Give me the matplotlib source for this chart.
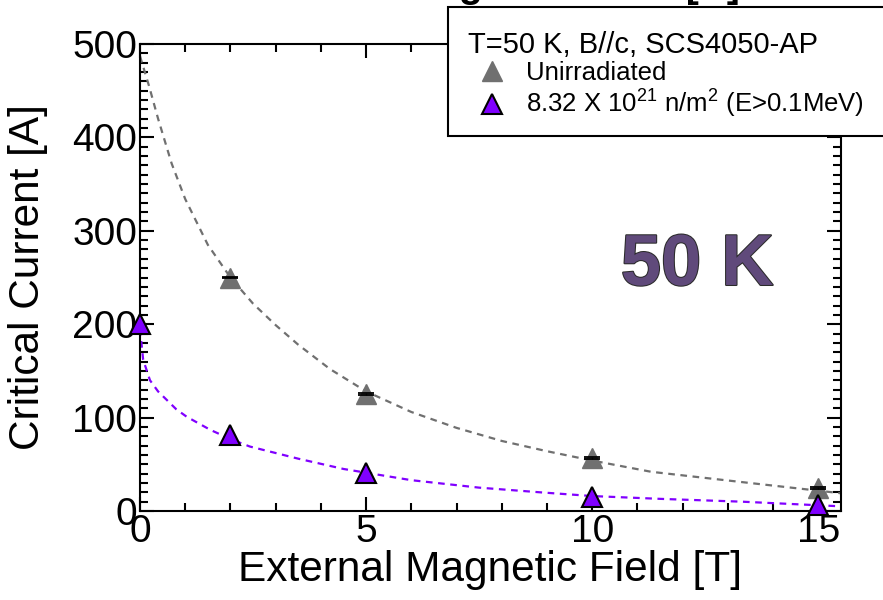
import numpy as np
import matplotlib.pyplot as plt
import matplotlib.patheffects as pe
from matplotlib.patches import Rectangle

plt.rcParams['font.family'] = ['Liberation Sans', 'DejaVu Sans']
plt.rcParams['mathtext.fontset'] = 'custom'
plt.rcParams['mathtext.rm'] = 'Liberation Sans'
plt.rcParams['mathtext.it'] = 'Liberation Sans:italic'

# measured points
field_unirr = [2, 5, 10, 15]
ic_unirr = [250, 125, 57, 25]
err_unirr = [1, 1, 1, 1]

field_irr = [0, 2, 5, 10, 15]
ic_irr = [200, 81, 41, 15, 6]

# fit curves
fit_unirr_x = [0, 0.2, 0.4, 0.7, 1.0, 1.5, 2.0, 2.5, 3.0, 3.5, 4.2, 5.0, 6.0, 7.0, 8.0, 9.0, 10.0, 11.3, 13.3, 15.5]
fit_unirr_y = [487, 455, 420, 372, 334, 285, 250, 222, 199, 178, 152, 128, 106, 89, 75, 64, 54, 42, 31, 19]

fit_irr_x = [0, 0.07, 0.22, 0.4, 0.59, 0.8, 1.03, 1.55, 2.0, 2.43, 3.5, 4.5, 6.0, 7.5, 8.85, 10.0, 11.5, 13.3, 15.5]
fit_irr_y = [195, 162, 140, 128, 119, 109, 101, 87, 77, 69, 56, 45, 33, 25, 20, 16, 13, 10, 5]

gray = '#707070'
purple = '#8000ff'

fig = plt.figure(figsize=(8.83, 6), dpi=100)
ax = fig.add_axes([140/883, 89/600, 701/883, 467/600])

ax.plot(fit_unirr_x, fit_unirr_y, color=gray, lw=1.6, ls=(0, (3, 2.5)))
ax.plot(fit_irr_x, fit_irr_y, color=purple, lw=1.6, ls=(0, (3, 2.5)))

h1, = ax.plot(field_unirr, ic_unirr, '^', ms=15, color=gray, mec=gray,
              clip_on=False, zorder=4, label='Unirradiated')
ax.errorbar(field_unirr, ic_unirr, yerr=err_unirr, fmt='none', ecolor='black',
            elinewidth=1, capsize=6, capthick=1.3, zorder=5, clip_on=False)
h2, = ax.plot(field_irr, ic_irr, '^', ms=15, color=purple, mec='black', mew=1.5,
              clip_on=False, zorder=4,
              label=r'8.32 X 10$^{21}$ n/m$^2$ (E>0.1MeV)')

ax.set_xlim(0, 15.5)
ax.set_ylim(0, 500)
ax.set_xticks([0, 5, 10, 15])
ax.set_yticks([0, 100, 200, 300, 400, 500])
ax.set_xticks(np.arange(0, 16, 1), minor=True)
ax.set_yticks(np.arange(0, 501, 10), minor=True)
ax.tick_params(which='both', direction='in', top=True, right=True, width=1.5)
ax.tick_params(which='major', length=10, labelsize=28, pad=2)
ax.tick_params(which='minor', length=6)
for s in ax.spines.values():
    s.set_linewidth(1.5)

ax.set_xlabel('External Magnetic Field [T]', fontsize=30.5, labelpad=0)
ax.set_ylabel('Critical Current [A]', fontsize=30.5)
ax.yaxis.set_label_coords(-92/701, 0.5)

ax.text(12.32, 242, '50 K', fontsize=52, fontweight='bold', color='#604a7b',
        ha='center', va='baseline',
        path_effects=[pe.withStroke(linewidth=1.5, foreground='#2b2b2b')])

# title cut off at the top edge
fig.text(740/883, 1 + 3/600, 'Critical Current vs Magnetic Field [A]', fontsize=28,
         fontweight='bold', ha='right', va='baseline')

# legend box running off the right edge
box = Rectangle((448/883, 1 - 136/600), 460/883, 129/600,
                transform=fig.transFigure, fc='white', ec='black', lw=1.5,
                zorder=10, clip_on=False)
ax.add_patch(box)
leg = ax.legend(handles=[h1, h2], title='T=50 K, B//c, SCS4050-AP',
                loc='upper left', bbox_to_anchor=(455/883, 1 - 18/600),
                bbox_transform=fig.transFigure, frameon=False, fontsize=18.5,
                title_fontsize=21, alignment='left', handletextpad=0.35,
                labelspacing=0.1, borderpad=0, handlelength=1.9)
leg.set_zorder(11)

fig.savefig('out.png', dpi=100)
